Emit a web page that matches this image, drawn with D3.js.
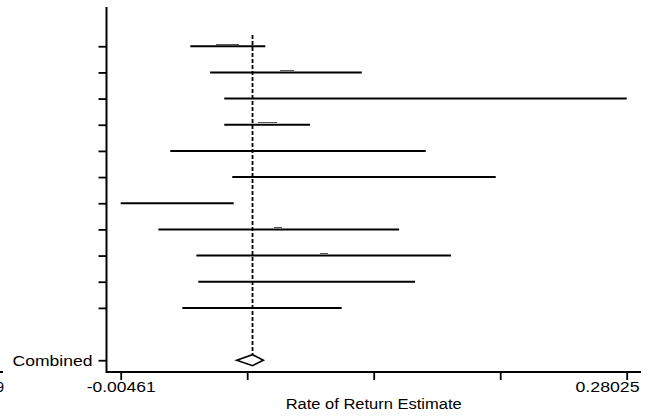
<!DOCTYPE html>
<html>
<head>
<meta charset="utf-8">
<script src="https://cdn.jsdelivr.net/npm/d3@7"></script>
<style>
  body { margin: 0; background: #fff; }
  svg { display: block; }
</style>
</head>
<body>
<div id="chart"></div>
<script>
(function IFEE() {
    'use strict';
    var w = 650;
    var h = 418;

    // study rows (1..11), empty row 12, combined row 13
    var rowIndex = [1, 2, 3, 4, 5, 6, 7, 8, 9, 10, 11];
    var rowLabels = ["", "", "", "", "", "", "", "", "", "", ""];
    var estimate = [0.0556, 0.0889, 0.1673, 0.0782, 0.0952, 0.1324, 0.0271, 0.0839, 0.1098, 0.1001, 0.0749];
    var lowerCI = [0.0346, 0.0457, 0.0537, 0.0537, 0.0233, 0.0582, -0.00461, 0.0166, 0.0380, 0.0391, 0.0301];
    var upperCI = [0.0768, 0.1311, 0.28025, 0.1020, 0.1671, 0.2065, 0.0590, 0.1521, 0.1813, 0.1611, 0.1198];
    var weight = [23, 14, 0, 19, 0, 0, 0, 8, 8, 0, 0];

    var combinedRow = 13;
    var combinedLabel = "Combined";
    var combinedEst = 0.0696;
    var combinedLo = 0.0607;
    var combinedHi = 0.0757;

    var xTicks = [-0.00461, 0.066605, 0.13782, 0.209035, 0.28025];
    var xTickLabels = ["-0.00461", "", "", "", "0.28025"];
    var xTitle = "Rate of Return Estimate";

    var font = "'Liberation Sans', Arial, sans-serif";

    var svg = d3.select("#chart")
        .append("svg")
        .attr("width", w)
        .attr("height", h);

    var x = d3.scaleLinear()
        .domain([-0.00461, 0.28025])
        .range([120.7, 626.7]);

    var y = d3.scaleLinear()
        .domain([-0.5, 13.45])
        .range([7, 372]);

    var boxW = d3.scaleLinear().domain([0, 1]).range([0, 1]);

    // x axis
    var xAxis = d3.axisBottom(x)
        .tickValues(xTicks)
        .tickSize(8)
        .tickFormat("");
    var gx = svg.append("g")
        .attr("transform", "translate(0," + y(13.45) + ")")
        .call(xAxis);
    gx.select(".domain").attr("d", "M106.5,0H641").attr("stroke-width", 2);
    gx.selectAll("line").attr("stroke-width", 1.8);

    // tick labels, stretched like the reference
    gx.selectAll(".tick").each(function (d, i) {
        if (!xTickLabels[i]) { return; }
        var last = i === xTickLabels.length - 1;
        d3.select(this).append("text")
            .attr("x", last ? 12.3 : 0)
            .attr("y", 20)
            .attr("text-anchor", last ? "end" : "middle")
            .attr("fill", "#000")
            .attr("font-family", font)
            .attr("font-size", "14px")
            .attr("textLength", last ? 64 : 69)
            .attr("lengthAdjust", "spacingAndGlyphs")
            .text(xTickLabels[i]);
    });

    // y axis
    var yTicks = rowIndex.concat([combinedRow]);
    var yLabels = rowLabels.concat([combinedLabel]);
    var yAxis = d3.axisLeft(y)
        .tickValues(yTicks)
        .tickSize(8)
        .tickFormat("");
    var gy = svg.append("g")
        .attr("transform", "translate(106.5,0)")
        .call(yAxis);
    gy.select(".domain")
        .attr("d", "M0," + y(-0.5) + "V" + (y(13.45) + 1))
        .attr("stroke-width", 2);
    gy.selectAll("line").attr("stroke-width", 1.8);
    gy.selectAll(".tick").each(function (d, i) {
        if (!yLabels[i]) { return; }
        d3.select(this).append("text")
            .attr("x", -14)
            .attr("dy", "0.36em")
            .attr("text-anchor", "end")
            .attr("fill", "#000")
            .attr("font-family", font)
            .attr("font-size", "14px")
            .attr("textLength", 80)
            .attr("lengthAdjust", "spacingAndGlyphs")
            .text(yLabels[i]);
    });

    // axis title
    svg.append("text")
        .attr("x", (x.range()[0] + x.range()[1]) / 2)
        .attr("y", 409)
        .attr("text-anchor", "middle")
        .attr("font-family", font)
        .attr("font-size", "14px")
        .attr("textLength", 176)
        .attr("lengthAdjust", "spacingAndGlyphs")
        .text(xTitle);

    // leftover piece of neighbouring axis at the left edge
    svg.append("line")
        .attr("x1", 0).attr("x2", 3)
        .attr("y1", y(13.45)).attr("y2", y(13.45))
        .attr("stroke", "#000").attr("stroke-width", 2);
    svg.append("text")
        .attr("x", 4)
        .attr("y", 392)
        .attr("text-anchor", "end")
        .attr("font-family", font)
        .attr("font-size", "14px")
        .text("9");

    // dashed line at the combined estimate
    svg.append("line")
        .attr("x1", x(combinedEst)).attr("x2", x(combinedEst))
        .attr("y1", 35).attr("y2", y(combinedRow) - 6)
        .attr("stroke", "#000")
        .attr("stroke-width", 1.8)
        .attr("stroke-dasharray", "4,2");

    // confidence intervals
    svg.selectAll("line.ci")
        .data(rowIndex)
        .enter()
        .append("line")
        .attr("class", "ci")
        .attr("x1", function (d, i) { return x(lowerCI[i]); })
        .attr("x2", function (d, i) { return x(upperCI[i]); })
        .attr("y1", function (d) { return y(d); })
        .attr("y2", function (d) { return y(d); })
        .attr("stroke", "#000")
        .attr("stroke-width", 2);

    // weight boxes (flattened), sitting just on top of each line
    svg.selectAll("rect.box")
        .data(rowIndex.filter(function (d, i) { return weight[i] > 0; }))
        .enter()
        .append("rect")
        .attr("class", "box")
        .attr("x", function (d) { return x(estimate[d - 1]) - boxW(weight[d - 1]) / 2; })
        .attr("width", function (d) { return boxW(weight[d - 1]); })
        .attr("y", function (d) { return Math.floor(y(d) - 1) - 1; })
        .attr("height", 1)
        .attr("fill", "#555")
        .attr("shape-rendering", "crispEdges");

    // combined diamond
    var cy = y(combinedRow);
    svg.append("path")
        .attr("d", "M" + x(combinedLo) + "," + cy +
            "L" + x(combinedEst) + "," + (cy - 5.5) +
            "L" + x(combinedHi) + "," + cy +
            "L" + x(combinedEst) + "," + (cy + 5.5) + "Z")
        .attr("fill", "#fff")
        .attr("stroke", "#000")
        .attr("stroke-width", 1.6);
}());
</script>
</body>
</html>
